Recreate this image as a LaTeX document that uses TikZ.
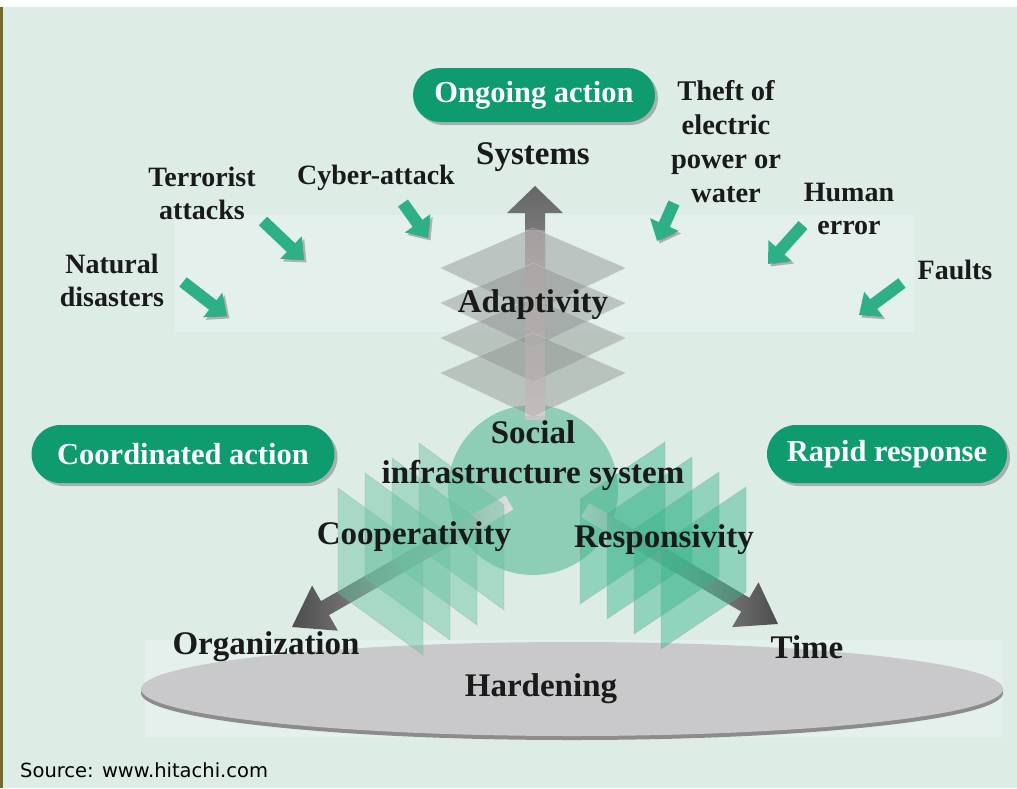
\documentclass[tikz,border=0pt]{standalone}
\usepackage{fontspec}
\setmainfont{Liberation Serif}
\newfontfamily\srcfont{DejaVu Sans}
\usetikzlibrary{arrows.meta,shadows}

\definecolor{bg}{HTML}{DDEDE6}
\definecolor{bglight}{HTML}{E3F0EB}
\definecolor{pillgreen}{HTML}{0E9B70}
\definecolor{arrowgreen}{HTML}{2DB088}
\definecolor{circlegreen}{HTML}{8FCEB6}
\definecolor{plategray}{HTML}{8C908E}
\definecolor{panelleft}{HTML}{66C2A0}
\definecolor{panelright}{HTML}{36B489}
\definecolor{discgray}{HTML}{C9C9CB}
\definecolor{inkblack}{HTML}{1A1A1A}

\newcommand\annfont{\fontsize{28}{33}\selectfont\bfseries}
\newcommand\theftfont{\fontsize{28.5}{34}\selectfont\bfseries}
\newcommand\bigfont{\fontsize{33}{40}\selectfont\bfseries}
\newcommand\pillfont{\fontsize{30.5}{34}\selectfont\bfseries}

\begin{document}
\begin{tikzpicture}[x=1pt,y=-1pt,
  ann/.style={font=\annfont, text=inkblack, align=center, inner sep=0pt},
  big/.style={font=\bigfont, text=inkblack, align=center, inner sep=0pt},
  pill/.style={fill=pillgreen, text=white, font=\pillfont, inner sep=0pt,
    rounded corners=27pt, minimum height=56pt,
    drop shadow={shadow xshift=3pt, shadow yshift=-3pt, fill=black!60, opacity=0.45}},
  garrow/.style={draw=arrowgreen, line width=12pt,
    -{Triangle[length=18pt, width=30pt]},
    preaction={draw=black!60, opacity=0.45,
      transform canvas={xshift=2.5pt, yshift=-2.5pt}}},
  plate/.style={fill=plategray, fill opacity=0.45, draw=white, draw opacity=0.25, line width=0.6pt},
  lpanel/.style={fill=panelleft, fill opacity=0.45, draw=black!40, draw opacity=0.25, line width=0.8pt},
  rpanel/.style={fill=panelright, fill opacity=0.45, draw=black!40, draw opacity=0.25, line width=0.8pt}
]
\useasboundingbox (0,0) rectangle (1017,788);

% background, top strip and left edge
\fill[bg] (0,0) rectangle (1017,788);
\fill[white] (0,0) rectangle (1017,7);
\fill[black!70!green!40!brown] (0,7) rectangle (3,788);

% lighter panels behind the threat arrows and the base disc
\fill[bglight] (175,215) rectangle (915,332);
\fill[bglight] (145,640) rectangle (1003,737);

% base disc: hardening
\fill[black!45] (572,693) ellipse [x radius=431, y radius=47];
\fill[discgray] (572,689) ellipse [x radius=431, y radius=47];

% central circle
\fill[circlegreen] (533,490) circle [radius=85];

% vertical axis arrow: systems
\shade[top color=black!60, bottom color=black!22]
  (535,186) -- (563,213) -- (545,213) -- (545,420) -- (525,420) -- (525,213) -- (507,213) -- cycle;

% stacked plates: adaptivity
\foreach \c in {268,303,338,373}{
  \path[plate] (533,\c-40) -- (626,\c) -- (533,\c+44) -- (440,\c) -- cycle;
}
\fill[black!20!red!10!white, opacity=0.3] (525,230) rectangle (545,416);

% organization axis arrow
\shade[left color=black!70, right color=black!12]
  (292,627) -- (337.9,630.7) -- (329.0,615.1) -- (513.3,509.5) -- (505.3,495.5)
  -- (321.0,601.1) -- (312.1,585.5) -- cycle;

% time axis arrow
\shade[left color=black!12, right color=black!70]
  (778,624) -- (758.5,582.3) -- (749.4,597.8) -- (589.2,503.1) -- (581.0,516.9)
  -- (741.2,611.6) -- (732.1,627.1) -- cycle;

% cooperativity panels (back to front)
\foreach \i in {3,2,1,0}{
  \pgfmathsetmacro\xl{338+27*\i}
  \pgfmathsetmacro\yt{488-15*\i}
  \path[lpanel] (\xl,\yt) -- (\xl+85,\yt+62) -- (\xl+85,\yt+167) -- (\xl,\yt+105) -- cycle;
}

% responsivity panels (back to front)
\foreach \i in {0,1,2,3}{
  \pgfmathsetmacro\xl{580+27*\i}
  \pgfmathsetmacro\yt{442+15*\i}
  \path[rpanel] (\xl,\yt+57) -- (\xl+85,\yt) -- (\xl+85,\yt+105) -- (\xl,\yt+162) -- cycle;
}

% action pills
\node[pill, minimum width=242pt, minimum height=54pt] (ongoing) at (534,95) {Ongoing action};
\node[pill, minimum width=303pt, minimum height=58pt, rounded corners=29pt] (coordinated) at (183,454) {Coordinated action};
\node[pill, minimum width=240pt, minimum height=58pt, rounded corners=29pt] (rapid) at (887,454) {Rapid response};

% threat labels
\node[ann] (natural) at (112,280) {Natural\\disasters};
\node[ann] (terror) at (202,193) {Terrorist\\attacks};
\node[ann] (cyber) at (376,178) {Cyber-attack};
\node[ann, font=\theftfont] (theft) at (726,142) {Theft of\\electric\\power or\\water};
\node[ann] (human) at (849,209) {Human\\error};
\node[ann] (faults) at (955,270) {Faults};

% threat arrows
\coordinate (natural-tail) at (183,282);  \coordinate (natural-tip) at (227,316);
\coordinate (terror-tail) at (263,221);   \coordinate (terror-tip) at (304,260);
\coordinate (cyber-tail) at (403,203);    \coordinate (cyber-tip) at (428,238);
\coordinate (theft-tail) at (674,203);    \coordinate (theft-tip) at (657,241);
\coordinate (human-tail) at (803,225);    \coordinate (human-tip) at (768,264);
\coordinate (faults-tail) at (902,283);   \coordinate (faults-tip) at (859,315);
\foreach \t in {natural,terror,cyber,theft,human,faults}{
  \draw[garrow] (\t-tail) -- (\t-tip);
}

% dimension labels
\node[big] (systems) at (533,157) {Systems};
\node[big] (adaptivity) at (533,305) {Adaptivity};
\node[big] (social) at (533,456) {Social\\infrastructure system};
\node[big] (cooperativity) at (414,537) {Cooperativity};
\node[big] (responsivity) at (664,540) {Responsivity};
\node[big] (organization) at (266,647) {Organization};
\node[big] (time) at (807,647) {Time};
\node[big] (hardening) at (541,689) {Hardening};

% source line
\node[anchor=west, font=\srcfont\fontsize{19.5}{22}\selectfont, text=black, inner sep=0pt]
  (source) at (20,770) {Source: www.hitachi.com};
\end{tikzpicture}
\end{document}
